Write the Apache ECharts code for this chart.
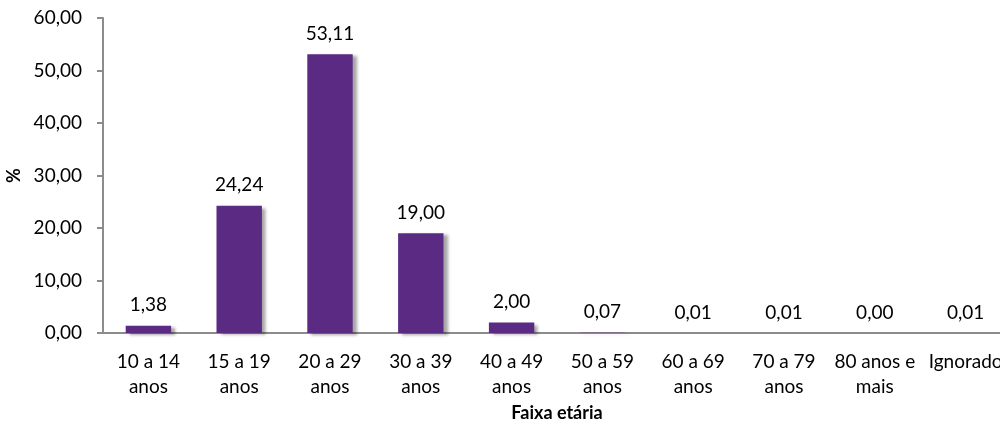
<!DOCTYPE html>
<html>
<head>
<meta charset="utf-8">
<script src="https://cdn.jsdelivr.net/npm/echarts@6/dist/echarts.min.js"></script>
<style>
  html, body { margin: 0; padding: 0; background: #ffffff; overflow: hidden; }
  #chart { width: 1000px; height: 428px; }
</style>
</head>
<body>
<div id="chart"></div>
<script>
// Age groups and their share (%)
const categories = ['10 a 14\nanos', '15 a 19\nanos', '20 a 29\nanos', '30 a 39\nanos', '40 a 49\nanos',
  '50 a 59\nanos', '60 a 69\nanos', '70 a 79\nanos', '80 anos e\nmais', 'Ignorado'];
const percentages = [1.38, 24.24, 53.11, 19.00, 2.00, 0.07, 0.01, 0.01, 0.00, 0.01];
const yTicks = { min: 0, max: 60, interval: 10 };

const fmt = v => Number(v).toFixed(2).replace('.', ',');
const FONT = 'Lato, "Open Sans", sans-serif';
const AXIS_GREY = '#8c8c8c';

const chart = echarts.init(document.getElementById('chart'), null, { renderer: 'canvas' });
chart.setOption({
  animation: false,
  backgroundColor: '#ffffff',
  // plot area runs slightly past the right edge of the canvas
  grid: { left: 103, width: 908, top: 18, bottom: 95, containLabel: false, outerBoundsMode: 'none' },
  xAxis: {
    type: 'category',
    data: categories,
    name: 'Faixa etária',
    nameLocation: 'middle',
    nameGap: 59,
    nameTextStyle: { fontFamily: FONT, fontSize: 18, fontWeight: 'bold', color: '#000' },
    axisLine: { lineStyle: { color: AXIS_GREY, width: 2 } },
    axisTick: { alignWithLabel: false, length: 6, lineStyle: { color: AXIS_GREY, width: 2 } },
    axisLabel: { fontFamily: FONT, fontSize: 19, color: '#000', lineHeight: 25, margin: 16, interval: 0 }
  },
  yAxis: {
    type: 'value',
    min: yTicks.min, max: yTicks.max, interval: yTicks.interval,
    name: '%',
    nameLocation: 'middle',
    nameGap: 78,
    nameRotate: 90,
    nameTextStyle: { fontFamily: FONT, fontSize: 18, fontWeight: 'bold', color: '#000' },
    axisLine: { show: true, lineStyle: { color: AXIS_GREY, width: 2 } },
    axisTick: { show: true, length: 6, lineStyle: { color: AXIS_GREY, width: 2 } },
    splitLine: { show: false },
    axisLabel: { fontFamily: FONT, fontSize: 19, color: '#000', margin: 21, formatter: fmt }
  },
  series: [{
    type: 'bar',
    data: percentages,
    barWidth: '50%',
    itemStyle: {
      color: '#5B2A83',
      shadowColor: 'rgba(0,0,0,0.35)',
      shadowBlur: 3,
      shadowOffsetX: 4,
      shadowOffsetY: 2
    },
    label: {
      show: true,
      position: 'top',
      distance: 11,
      fontFamily: FONT,
      fontSize: 19,
      color: '#000',
      formatter: p => fmt(p.value)
    }
  }]
});
</script>
</body>
</html>
